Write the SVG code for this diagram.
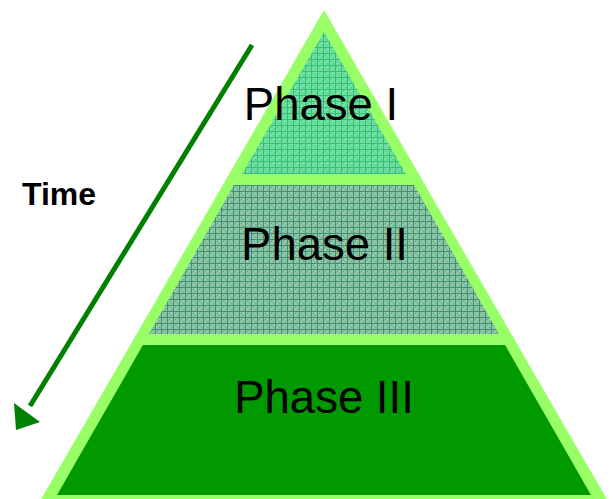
<svg xmlns="http://www.w3.org/2000/svg" width="615" height="499" viewBox="0 0 615 499">
  <defs>
    <pattern id="p1" width="6" height="6" patternUnits="userSpaceOnUse">
      <rect width="6" height="6" fill="#6EDDA2"/>
      <rect x="1" y="1" width="1" height="1" fill="#44CC80"/>
      <rect x="3" y="3" width="1" height="1" fill="#44CC80"/>
      <rect x="1" y="3" width="1" height="1" fill="#88E6B4"/>
      <rect x="3" y="1" width="1" height="1" fill="#88E6B4"/>
      <rect x="5" y="0" width="1" height="6" fill="#33C070"/>
      <rect x="0" y="5" width="6" height="1" fill="#33C070"/>
    </pattern>
    <pattern id="p2" width="6" height="6" patternUnits="userSpaceOnUse">
      <rect width="6" height="6" fill="#8CC2A6"/>
      <rect x="1" y="1" width="1" height="1" fill="#5FA584"/>
      <rect x="3" y="3" width="1" height="1" fill="#5FA584"/>
      <rect x="1" y="3" width="1" height="1" fill="#A6D2BA"/>
      <rect x="3" y="1" width="1" height="1" fill="#A6D2BA"/>
      <rect x="5" y="0" width="1" height="6" fill="#3E9270"/>
      <rect x="0" y="5" width="6" height="1" fill="#3E9270"/>
    </pattern>
  </defs>
  <style>
    .lbl { font-family: "Liberation Sans", Arial, sans-serif; font-size: 45.5px; fill: #000; text-anchor: middle; }
    .time { font-family: "Liberation Sans", Arial, sans-serif; font-size: 32px; font-weight: bold; fill: #000; }
  </style>
  <rect width="615" height="499" fill="#FFFFFF"/>
  <g id="pyramid">
    <polygon points="324,10 612,508 36,508" fill="#99FF66"/>
  </g>
  <g id="phase1">
    <polygon points="324,32 406,174 242,174" fill="url(#p1)"/>
    <text class="lbl" x="321" y="120">Phase I</text>
  </g>
  <g id="phase2">
    <polygon points="234,185 414,185 499,334 149,334" fill="url(#p2)"/>
    <text class="lbl" x="324.5" y="260">Phase II</text>
  </g>
  <g id="phase3">
    <polygon points="143,345 505,345 591,495 57,495" fill="#009900"/>
    <text class="lbl" x="324" y="413">Phase III</text>
  </g>
  <g id="connectors">
    <line x1="252" y1="45" x2="30" y2="406" stroke="#008000" stroke-width="5"/>
    <polygon points="16,430 14,403 40,422" fill="#008000"/>
  </g>
  <g id="time-label">
    <text class="time" x="22" y="205">Time</text>
  </g>
</svg>
